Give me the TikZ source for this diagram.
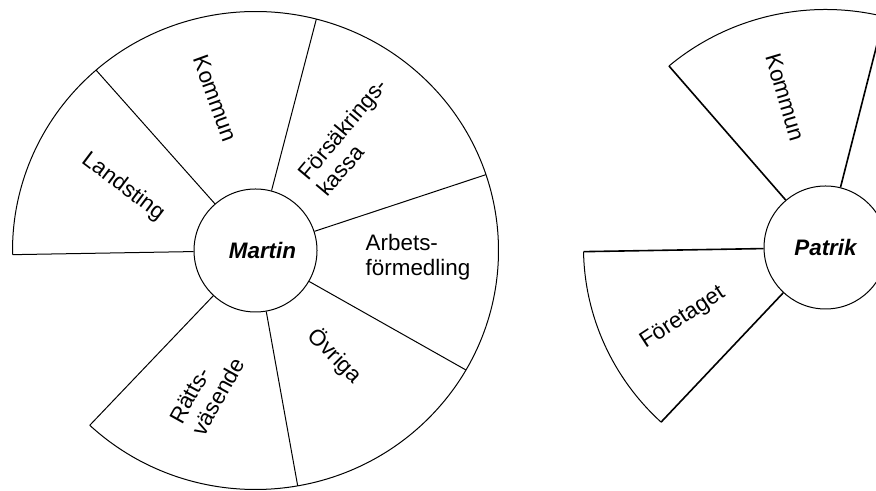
\documentclass[tikz,border=0pt]{standalone}
\usepackage{fontspec}
\setmainfont{Liberation Sans}

\begin{document}
\begin{tikzpicture}[x=0.5pt,y=0.5pt]
		\clip (0,0) rectangle (876,491);
		\begin{scope}
            [
                every node/.style={
					font=\fontsize{11.2}{12.6}\selectfont, align=left, inner sep=0pt },
				hub/.style = {draw, circle, line width=0.5pt, minimum size=61.5pt, font=\fontsize{11.2}{12.6}\selectfont\bfseries\itshape}
            ]
            
			\node(martin)[hub] at (255.5,240.5) {\hspace*{7pt}Martin};
			\node(patrik)[hub] at (825.5,243.5) {Patrik};
			
			\node(landsting)[rotate=-37] at (123,304) {Landsting};
			\node(kommunM)[rotate=-70] at (215,392.5) {Kommun};
			\node(kassa)[rotate=50] at (352,354) {Försäkrings-\\kassa};
			\node(arbets) at (418,233.5) {Arbets-\\förmedling};
			\node(ovriga)[rotate=-45] at (335,135) {Övriga};
			\node(ratts)[rotate=61] at (207,100.5) {Rätts-\\väsende};
			
			\node(kommunP)[rotate=-73.5] at (785,393.5) {Kommun};
			\node(foretaget)[rotate=33] at (683,173) {Företaget};

		\end{scope}
		\begin{scope}
            [
				line width=0.5pt,
				double line/.style = {line width=0.8pt}
            ]
			\coordinate (m1) at ([shift={(181:243 and 239)}]martin.center);
			\coordinate (m2) at ([shift={(131:243 and 239)}]martin.center);
			\coordinate (m3) at ([shift={(75.5:243 and 239)}]martin.center);
			\coordinate (m4) at ([shift={(18.5:243 and 239)}]martin.center);
			\coordinate (m5) at ([shift={(-30:243 and 239)}]martin.center);
			\coordinate (m6) at ([shift={(-80:243 and 239)}]martin.center);
			\coordinate (m7) at ([shift={(-133:243 and 239)}]martin.center);

			\coordinate (p1) at ([shift={(130.3:242 and 238)}]patrik.center);
			\coordinate (p2) at ([shift={(76:242 and 238)}]patrik.center);
			\coordinate (p3) at ([shift={(181:242 and 238)}]patrik.center);
			\coordinate (p4) at ([shift={(227.2:242 and 238)}]patrik.center);

            \draw (martin.181) -- (m1);
            \draw (martin.131) -- (m2);
            \draw (martin.75.5) -- (m3);
            \draw (martin.18.5) -- (m4);
            \draw (martin.-30) -- (m5);
            \draw (martin.-80) -- (m6);
            \draw (martin.-133) -- (m7);
			\draw (m7) arc[start angle=-133, end angle=181, x radius=243, y radius=239];

            \draw[double line] (patrik.130.3) -- (p1);
            \draw[double line] (patrik.76) -- (p2);
			\draw (p2) arc[start angle=76, end angle=130.3, x radius=242, y radius=238];
            \draw[double line] (patrik.181) -- (p3);
            \draw[double line] (patrik.227.2) -- (p4);
			\draw (p3) arc[start angle=181, end angle=227.2, x radius=242, y radius=238];
		\end{scope}
    \end{tikzpicture}
\end{document}
